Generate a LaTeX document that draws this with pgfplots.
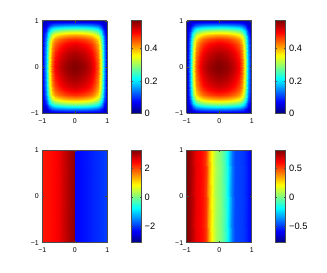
\documentclass[border=0pt]{standalone}
\usepackage{fontspec}
\setmainfont{Liberation Sans}
\usepackage{pgfplots}
\usepackage{pgfplotstable}
\pgfplotsset{compat=1.18}

\pgfplotstableread[row sep=\\]{
x y z\\
-1 -1 0.04\\ -0.9 -1 0.04\\ -0.8 -1 0.04\\ -0.7 -1 0.04\\ -0.6 -1 0.04\\ -0.5 -1 0.04\\ -0.4 -1 0.04\\ -0.3 -1 0.04\\ -0.2 -1 0.04\\ -0.1 -1 0.04\\ 0 -1 0.04\\ 0.1 -1 0.04\\ 0.2 -1 0.04\\ 0.3 -1 0.04\\ 0.4 -1 0.04\\ 0.5 -1 0.04\\ 0.6 -1 0.04\\ 0.7 -1 0.04\\ 0.8 -1 0.04\\ 0.9 -1 0.04\\ 1 -1 0.04\\
-1 -0.9 0.04\\ -0.9 -0.9 0.044\\ -0.8 -0.9 0.089\\ -0.7 -0.9 0.117\\ -0.6 -0.9 0.130\\ -0.5 -0.9 0.137\\ -0.4 -0.9 0.141\\ -0.3 -0.9 0.144\\ -0.2 -0.9 0.146\\ -0.1 -0.9 0.147\\ 0 -0.9 0.148\\ 0.1 -0.9 0.147\\ 0.2 -0.9 0.146\\ 0.3 -0.9 0.144\\ 0.4 -0.9 0.141\\ 0.5 -0.9 0.137\\ 0.6 -0.9 0.130\\ 0.7 -0.9 0.117\\ 0.8 -0.9 0.089\\ 0.9 -0.9 0.044\\ 1 -0.9 0.04\\
-1 -0.8 0.04\\ -0.9 -0.8 0.089\\ -0.8 -0.8 0.178\\ -0.7 -0.8 0.234\\ -0.6 -0.8 0.261\\ -0.5 -0.8 0.274\\ -0.4 -0.8 0.282\\ -0.3 -0.8 0.288\\ -0.2 -0.8 0.292\\ -0.1 -0.8 0.295\\ 0 -0.8 0.296\\ 0.1 -0.8 0.295\\ 0.2 -0.8 0.292\\ 0.3 -0.8 0.288\\ 0.4 -0.8 0.282\\ 0.5 -0.8 0.274\\ 0.6 -0.8 0.261\\ 0.7 -0.8 0.234\\ 0.8 -0.8 0.178\\ 0.9 -0.8 0.089\\ 1 -0.8 0.04\\
-1 -0.7 0.04\\ -0.9 -0.7 0.123\\ -0.8 -0.7 0.246\\ -0.7 -0.7 0.324\\ -0.6 -0.7 0.361\\ -0.5 -0.7 0.380\\ -0.4 -0.7 0.390\\ -0.3 -0.7 0.398\\ -0.2 -0.7 0.404\\ -0.1 -0.7 0.408\\ 0 -0.7 0.410\\ 0.1 -0.7 0.408\\ 0.2 -0.7 0.404\\ 0.3 -0.7 0.398\\ 0.4 -0.7 0.390\\ 0.5 -0.7 0.380\\ 0.6 -0.7 0.361\\ 0.7 -0.7 0.324\\ 0.8 -0.7 0.246\\ 0.9 -0.7 0.123\\ 1 -0.7 0.04\\
-1 -0.6 0.04\\ -0.9 -0.6 0.142\\ -0.8 -0.6 0.284\\ -0.7 -0.6 0.374\\ -0.6 -0.6 0.416\\ -0.5 -0.6 0.438\\ -0.4 -0.6 0.449\\ -0.3 -0.6 0.459\\ -0.2 -0.6 0.466\\ -0.1 -0.6 0.471\\ 0 -0.6 0.473\\ 0.1 -0.6 0.471\\ 0.2 -0.6 0.466\\ 0.3 -0.6 0.459\\ 0.4 -0.6 0.449\\ 0.5 -0.6 0.438\\ 0.6 -0.6 0.416\\ 0.7 -0.6 0.374\\ 0.8 -0.6 0.284\\ 0.9 -0.6 0.142\\ 1 -0.6 0.04\\
-1 -0.5 0.04\\ -0.9 -0.5 0.153\\ -0.8 -0.5 0.306\\ -0.7 -0.5 0.403\\ -0.6 -0.5 0.449\\ -0.5 -0.5 0.472\\ -0.4 -0.5 0.485\\ -0.3 -0.5 0.495\\ -0.2 -0.5 0.502\\ -0.1 -0.5 0.508\\ 0 -0.5 0.510\\ 0.1 -0.5 0.508\\ 0.2 -0.5 0.502\\ 0.3 -0.5 0.495\\ 0.4 -0.5 0.485\\ 0.5 -0.5 0.472\\ 0.6 -0.5 0.449\\ 0.7 -0.5 0.403\\ 0.8 -0.5 0.306\\ 0.9 -0.5 0.153\\ 1 -0.5 0.04\\
-1 -0.4 0.04\\ -0.9 -0.4 0.159\\ -0.8 -0.4 0.318\\ -0.7 -0.4 0.419\\ -0.6 -0.4 0.466\\ -0.5 -0.4 0.490\\ -0.4 -0.4 0.504\\ -0.3 -0.4 0.514\\ -0.2 -0.4 0.522\\ -0.1 -0.4 0.527\\ 0 -0.4 0.530\\ 0.1 -0.4 0.527\\ 0.2 -0.4 0.522\\ 0.3 -0.4 0.514\\ 0.4 -0.4 0.504\\ 0.5 -0.4 0.490\\ 0.6 -0.4 0.466\\ 0.7 -0.4 0.419\\ 0.8 -0.4 0.318\\ 0.9 -0.4 0.159\\ 1 -0.4 0.04\\
-1 -0.3 0.04\\ -0.9 -0.3 0.163\\ -0.8 -0.3 0.327\\ -0.7 -0.3 0.430\\ -0.6 -0.3 0.479\\ -0.5 -0.3 0.504\\ -0.4 -0.3 0.517\\ -0.3 -0.3 0.528\\ -0.2 -0.3 0.536\\ -0.1 -0.3 0.542\\ 0 -0.3 0.544\\ 0.1 -0.3 0.542\\ 0.2 -0.3 0.536\\ 0.3 -0.3 0.528\\ 0.4 -0.3 0.517\\ 0.5 -0.3 0.504\\ 0.6 -0.3 0.479\\ 0.7 -0.3 0.430\\ 0.8 -0.3 0.327\\ 0.9 -0.3 0.163\\ 1 -0.3 0.04\\
-1 -0.2 0.04\\ -0.9 -0.2 0.167\\ -0.8 -0.2 0.333\\ -0.7 -0.2 0.439\\ -0.6 -0.2 0.489\\ -0.5 -0.2 0.514\\ -0.4 -0.2 0.528\\ -0.3 -0.2 0.539\\ -0.2 -0.2 0.547\\ -0.1 -0.2 0.553\\ 0 -0.2 0.556\\ 0.1 -0.2 0.553\\ 0.2 -0.2 0.547\\ 0.3 -0.2 0.539\\ 0.4 -0.2 0.528\\ 0.5 -0.2 0.514\\ 0.6 -0.2 0.489\\ 0.7 -0.2 0.439\\ 0.8 -0.2 0.333\\ 0.9 -0.2 0.167\\ 1 -0.2 0.04\\
-1 -0.1 0.04\\ -0.9 -0.1 0.169\\ -0.8 -0.1 0.339\\ -0.7 -0.1 0.446\\ -0.6 -0.1 0.497\\ -0.5 -0.1 0.522\\ -0.4 -0.1 0.536\\ -0.3 -0.1 0.547\\ -0.2 -0.1 0.556\\ -0.1 -0.1 0.561\\ 0 -0.1 0.564\\ 0.1 -0.1 0.561\\ 0.2 -0.1 0.556\\ 0.3 -0.1 0.547\\ 0.4 -0.1 0.536\\ 0.5 -0.1 0.522\\ 0.6 -0.1 0.497\\ 0.7 -0.1 0.446\\ 0.8 -0.1 0.339\\ 0.9 -0.1 0.169\\ 1 -0.1 0.04\\
-1 0 0.04\\ -0.9 0 0.171\\ -0.8 0 0.342\\ -0.7 0 0.450\\ -0.6 0 0.502\\ -0.5 0 0.527\\ -0.4 0 0.542\\ -0.3 0 0.553\\ -0.2 0 0.561\\ -0.1 0 0.567\\ 0 0 0.570\\ 0.1 0 0.567\\ 0.2 0 0.561\\ 0.3 0 0.553\\ 0.4 0 0.542\\ 0.5 0 0.527\\ 0.6 0 0.502\\ 0.7 0 0.450\\ 0.8 0 0.342\\ 0.9 0 0.171\\ 1 0 0.04\\
-1 0.1 0.04\\ -0.9 0.1 0.169\\ -0.8 0.1 0.339\\ -0.7 0.1 0.446\\ -0.6 0.1 0.497\\ -0.5 0.1 0.522\\ -0.4 0.1 0.536\\ -0.3 0.1 0.547\\ -0.2 0.1 0.556\\ -0.1 0.1 0.561\\ 0 0.1 0.564\\ 0.1 0.1 0.561\\ 0.2 0.1 0.556\\ 0.3 0.1 0.547\\ 0.4 0.1 0.536\\ 0.5 0.1 0.522\\ 0.6 0.1 0.497\\ 0.7 0.1 0.446\\ 0.8 0.1 0.339\\ 0.9 0.1 0.169\\ 1 0.1 0.04\\
-1 0.2 0.04\\ -0.9 0.2 0.167\\ -0.8 0.2 0.333\\ -0.7 0.2 0.439\\ -0.6 0.2 0.489\\ -0.5 0.2 0.514\\ -0.4 0.2 0.528\\ -0.3 0.2 0.539\\ -0.2 0.2 0.547\\ -0.1 0.2 0.553\\ 0 0.2 0.556\\ 0.1 0.2 0.553\\ 0.2 0.2 0.547\\ 0.3 0.2 0.539\\ 0.4 0.2 0.528\\ 0.5 0.2 0.514\\ 0.6 0.2 0.489\\ 0.7 0.2 0.439\\ 0.8 0.2 0.333\\ 0.9 0.2 0.167\\ 1 0.2 0.04\\
-1 0.3 0.04\\ -0.9 0.3 0.163\\ -0.8 0.3 0.327\\ -0.7 0.3 0.430\\ -0.6 0.3 0.479\\ -0.5 0.3 0.504\\ -0.4 0.3 0.517\\ -0.3 0.3 0.528\\ -0.2 0.3 0.536\\ -0.1 0.3 0.542\\ 0 0.3 0.544\\ 0.1 0.3 0.542\\ 0.2 0.3 0.536\\ 0.3 0.3 0.528\\ 0.4 0.3 0.517\\ 0.5 0.3 0.504\\ 0.6 0.3 0.479\\ 0.7 0.3 0.430\\ 0.8 0.3 0.327\\ 0.9 0.3 0.163\\ 1 0.3 0.04\\
-1 0.4 0.04\\ -0.9 0.4 0.159\\ -0.8 0.4 0.318\\ -0.7 0.4 0.419\\ -0.6 0.4 0.466\\ -0.5 0.4 0.490\\ -0.4 0.4 0.504\\ -0.3 0.4 0.514\\ -0.2 0.4 0.522\\ -0.1 0.4 0.527\\ 0 0.4 0.530\\ 0.1 0.4 0.527\\ 0.2 0.4 0.522\\ 0.3 0.4 0.514\\ 0.4 0.4 0.504\\ 0.5 0.4 0.490\\ 0.6 0.4 0.466\\ 0.7 0.4 0.419\\ 0.8 0.4 0.318\\ 0.9 0.4 0.159\\ 1 0.4 0.04\\
-1 0.5 0.04\\ -0.9 0.5 0.153\\ -0.8 0.5 0.306\\ -0.7 0.5 0.403\\ -0.6 0.5 0.449\\ -0.5 0.5 0.472\\ -0.4 0.5 0.485\\ -0.3 0.5 0.495\\ -0.2 0.5 0.502\\ -0.1 0.5 0.508\\ 0 0.5 0.510\\ 0.1 0.5 0.508\\ 0.2 0.5 0.502\\ 0.3 0.5 0.495\\ 0.4 0.5 0.485\\ 0.5 0.5 0.472\\ 0.6 0.5 0.449\\ 0.7 0.5 0.403\\ 0.8 0.5 0.306\\ 0.9 0.5 0.153\\ 1 0.5 0.04\\
-1 0.6 0.04\\ -0.9 0.6 0.142\\ -0.8 0.6 0.284\\ -0.7 0.6 0.374\\ -0.6 0.6 0.416\\ -0.5 0.6 0.438\\ -0.4 0.6 0.449\\ -0.3 0.6 0.459\\ -0.2 0.6 0.466\\ -0.1 0.6 0.471\\ 0 0.6 0.473\\ 0.1 0.6 0.471\\ 0.2 0.6 0.466\\ 0.3 0.6 0.459\\ 0.4 0.6 0.449\\ 0.5 0.6 0.438\\ 0.6 0.6 0.416\\ 0.7 0.6 0.374\\ 0.8 0.6 0.284\\ 0.9 0.6 0.142\\ 1 0.6 0.04\\
-1 0.7 0.04\\ -0.9 0.7 0.123\\ -0.8 0.7 0.246\\ -0.7 0.7 0.324\\ -0.6 0.7 0.361\\ -0.5 0.7 0.380\\ -0.4 0.7 0.390\\ -0.3 0.7 0.398\\ -0.2 0.7 0.404\\ -0.1 0.7 0.408\\ 0 0.7 0.410\\ 0.1 0.7 0.408\\ 0.2 0.7 0.404\\ 0.3 0.7 0.398\\ 0.4 0.7 0.390\\ 0.5 0.7 0.380\\ 0.6 0.7 0.361\\ 0.7 0.7 0.324\\ 0.8 0.7 0.246\\ 0.9 0.7 0.123\\ 1 0.7 0.04\\
-1 0.8 0.04\\ -0.9 0.8 0.089\\ -0.8 0.8 0.178\\ -0.7 0.8 0.234\\ -0.6 0.8 0.261\\ -0.5 0.8 0.274\\ -0.4 0.8 0.282\\ -0.3 0.8 0.288\\ -0.2 0.8 0.292\\ -0.1 0.8 0.295\\ 0 0.8 0.296\\ 0.1 0.8 0.295\\ 0.2 0.8 0.292\\ 0.3 0.8 0.288\\ 0.4 0.8 0.282\\ 0.5 0.8 0.274\\ 0.6 0.8 0.261\\ 0.7 0.8 0.234\\ 0.8 0.8 0.178\\ 0.9 0.8 0.089\\ 1 0.8 0.04\\
-1 0.9 0.04\\ -0.9 0.9 0.044\\ -0.8 0.9 0.089\\ -0.7 0.9 0.117\\ -0.6 0.9 0.130\\ -0.5 0.9 0.137\\ -0.4 0.9 0.141\\ -0.3 0.9 0.144\\ -0.2 0.9 0.146\\ -0.1 0.9 0.147\\ 0 0.9 0.148\\ 0.1 0.9 0.147\\ 0.2 0.9 0.146\\ 0.3 0.9 0.144\\ 0.4 0.9 0.141\\ 0.5 0.9 0.137\\ 0.6 0.9 0.130\\ 0.7 0.9 0.117\\ 0.8 0.9 0.089\\ 0.9 0.9 0.044\\ 1 0.9 0.04\\
-1 1 0.04\\ -0.9 1 0.04\\ -0.8 1 0.04\\ -0.7 1 0.04\\ -0.6 1 0.04\\ -0.5 1 0.04\\ -0.4 1 0.04\\ -0.3 1 0.04\\ -0.2 1 0.04\\ -0.1 1 0.04\\ 0 1 0.04\\ 0.1 1 0.04\\ 0.2 1 0.04\\ 0.3 1 0.04\\ 0.4 1 0.04\\ 0.5 1 0.04\\ 0.6 1 0.04\\ 0.7 1 0.04\\ 0.8 1 0.04\\ 0.9 1 0.04\\ 1 1 0.04\\
}\bump

\pgfplotstableread[row sep=\\]{
x y z\\
-1 -1 2.30\\ -0.9 -1 2.32\\ -0.8 -1 2.35\\ -0.7 -1 2.38\\ -0.6 -1 2.42\\ -0.5 -1 2.53\\ -0.4 -1 2.66\\ -0.3 -1 2.79\\ -0.2 -1 2.92\\ -0.1 -1 3.05\\ 0 -1 3.16\\
-1 1 2.30\\ -0.9 1 2.32\\ -0.8 1 2.35\\ -0.7 1 2.38\\ -0.6 1 2.42\\ -0.5 1 2.53\\ -0.4 1 2.66\\ -0.3 1 2.79\\ -0.2 1 2.92\\ -0.1 1 3.05\\ 0 1 3.16\\
}\phaseL

\pgfplotstableread[row sep=\\]{
x y z\\
0 -1 -2.36\\ 0.1 -1 -2.32\\ 0.2 -1 -2.28\\ 0.3 -1 -2.24\\ 0.4 -1 -2.20\\ 0.5 -1 -2.16\\ 0.6 -1 -2.11\\ 0.7 -1 -2.07\\ 0.8 -1 -2.03\\ 0.9 -1 -1.99\\ 1 -1 -1.95\\
0 1 -2.36\\ 0.1 1 -2.32\\ 0.2 1 -2.28\\ 0.3 1 -2.24\\ 0.4 1 -2.20\\ 0.5 1 -2.16\\ 0.6 1 -2.11\\ 0.7 1 -2.07\\ 0.8 1 -2.03\\ 0.9 1 -1.99\\ 1 1 -1.95\\
}\phaseR

\pgfplotstableread[row sep=\\]{
x y z\\
-1 -1 0.80\\ -0.9 -1 0.76\\ -0.8 -1 0.70\\ -0.7 -1 0.64\\ -0.6 -1 0.61\\ -0.5 -1 0.58\\ -0.4 -1 0.52\\ -0.3 -1 0.33\\ -0.2 -1 0.16\\ -0.1 -1 0.07\\ 0 -1 0.03\\ 0.1 -1 -0.02\\ 0.2 -1 -0.12\\ 0.3 -1 -0.26\\ 0.4 -1 -0.40\\ 0.5 -1 -0.48\\ 0.6 -1 -0.49\\ 0.7 -1 -0.50\\ 0.8 -1 -0.52\\ 0.9 -1 -0.56\\ 1 -1 -0.60\\
-1 1 0.80\\ -0.9 1 0.76\\ -0.8 1 0.70\\ -0.7 1 0.64\\ -0.6 1 0.61\\ -0.5 1 0.58\\ -0.4 1 0.52\\ -0.3 1 0.33\\ -0.2 1 0.16\\ -0.1 1 0.07\\ 0 1 0.03\\ 0.1 1 -0.02\\ 0.2 1 -0.12\\ 0.3 1 -0.26\\ 0.4 1 -0.40\\ 0.5 1 -0.48\\ 0.6 1 -0.49\\ 0.7 1 -0.50\\ 0.8 1 -0.52\\ 0.9 1 -0.56\\ 1 1 -0.60\\
}\wave

\pgfplotsset{
  panel/.style={
    scale only axis, width=65bp, height=92.5bp,
    xmin=-1, xmax=1, ymin=-1, ymax=1, enlargelimits=false,
    view={0}{90}, colormap/jet, axis on top,
    xtick={-1,0,1}, ytick={-1,0,1},
    xticklabels={−1,0,1}, yticklabels={−1,0,1},
    tick label style={font=\fontsize{7}{8}\selectfont},
    xticklabel style={yshift=-1.5bp},
    tick align=inside, major tick length=2bp,
    every tick/.style={black!70, line width=0.5bp},
    axis line style={black!70, line width=0.9bp},
    colorbar,
  },
  cbar/.style={
    colorbar style={
      at={(parent axis.north east)}, anchor=north west, xshift=15.4bp,
      scale only axis, width=10bp, height=92.5bp,
      ytick={#1}, yticklabels={#1},
      yticklabel style={font=\fontsize{9.3}{10}\selectfont},
      tick align=inside, major tick length=1.5bp,
      every tick/.style={black!70, line width=0.5bp},
      axis line style={black!70, line width=0.9bp},
    },
  },
}

\begin{document}
\begin{tikzpicture}
\useasboundingbox (0,0) rectangle (327bp,273bp);
% top left
\begin{axis}[panel, at={(42.3bp,159.7bp)}, anchor=south west,
  point meta min=0, point meta max=0.571, cbar={0,0.2,0.4}]
\addplot3[surf, shader=interp, mesh/cols=21] table {\bump};
\end{axis}
% top right
\begin{axis}[panel, at={(186.7bp,159.7bp)}, anchor=south west,
  point meta min=0, point meta max=0.571, cbar={0,0.2,0.4}]
\addplot3[surf, shader=interp, mesh/cols=21] table {\bump};
\end{axis}
% bottom left
\begin{axis}[panel, at={(42.3bp,30.3bp)}, anchor=south west,
  point meta min=-3.14, point meta max=3.22,
  colorbar style={at={(parent axis.north east)}, anchor=north west, xshift=15.4bp,
      scale only axis, width=10bp, height=92.5bp,
      ytick={-2,0,2}, yticklabels={−2,0,2},
      yticklabel style={font=\fontsize{9.3}{10}\selectfont},
      tick align=inside, major tick length=1.5bp,
      every tick/.style={black!70, line width=0.5bp},
      axis line style={black!70, line width=0.9bp}}]
\addplot3[surf, shader=interp, mesh/cols=11] table {\phaseL};
\addplot3[surf, shader=interp, mesh/cols=11] table {\phaseR};
\end{axis}
% bottom right
\begin{axis}[panel, at={(186.7bp,30.3bp)}, anchor=south west,
  point meta min=-0.79, point meta max=0.81,
  colorbar style={at={(parent axis.north east)}, anchor=north west, xshift=15.4bp,
      scale only axis, width=10bp, height=92.5bp,
      ytick={-0.5,0,0.5}, yticklabels={−0.5,0,0.5},
      yticklabel style={font=\fontsize{9.3}{10}\selectfont},
      tick align=inside, major tick length=1.5bp,
      every tick/.style={black!70, line width=0.5bp},
      axis line style={black!70, line width=0.9bp}}]
\addplot3[surf, shader=interp, mesh/cols=21] table {\wave};
\end{axis}
\end{tikzpicture}
\end{document}
